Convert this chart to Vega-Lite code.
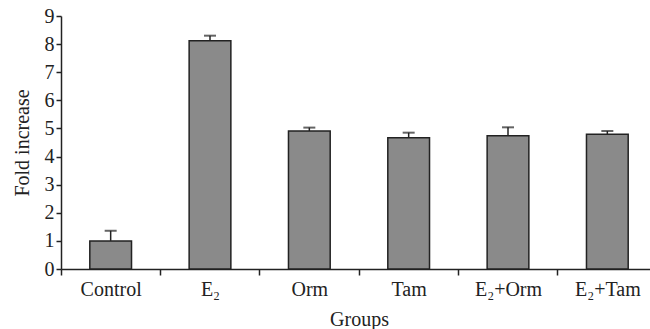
{
  "$schema": "https://vega.github.io/schema/vega-lite/v6.json",
  "autosize": "none",
  "padding": {"left": 61, "top": 16, "right": 0, "bottom": 60},
  "width": 589,
  "height": 253,
  "background": "white",
  "config": {
    "view": {"stroke": null},
    "axis": {
      "labelFont": "Liberation Serif",
      "titleFont": "Liberation Serif",
      "labelColor": "#222",
      "titleColor": "#222",
      "domainColor": "#222",
      "tickColor": "#222",
      "domainWidth": 1.5,
      "tickWidth": 1.5,
      "grid": false,
      "titleFontWeight": "normal"
    },
    "axisY": {
      "title": "Fold increase",
      "values": [0, 1, 2, 3, 4, 5, 6, 7, 8, 9],
      "labelFontSize": 20,
      "titleFontSize": 20,
      "tickSize": 5,
      "labelPadding": 2,
      "titlePadding": 12
    }
  },
  "data": {
    "values": [
      {"group": "Control", "value": 1.0, "upper": 1.36},
      {"group": "E₂", "value": 8.12, "upper": 8.3},
      {"group": "Orm", "value": 4.91, "upper": 5.03},
      {"group": "Tam", "value": 4.67, "upper": 4.85},
      {"group": "E₂+Orm", "value": 4.74, "upper": 5.04},
      {"group": "E₂+Tam", "value": 4.79, "upper": 4.91}
    ]
  },
  "encoding": {
    "x": {
      "field": "group",
      "type": "nominal",
      "sort": null,
      "scale": {"range": [0, 596], "paddingInner": 0.58, "paddingOuter": 0.29},
      "axis": {
        "title": "Groups",
        "labelAngle": 0,
        "labelFontSize": 20,
        "titleFontSize": 20,
        "ticks": true,
        "bandPosition": 0,
        "tickOffset": -29,
        "labelOffset": 29,
        "tickSize": 6,
        "labelPadding": 4,
        "titlePadding": 10
      }
    }
  },
  "layer": [
    {
      "mark": {"type": "rule", "color": "#222", "strokeWidth": 1.5},
      "encoding": {
        "y": {"field": "value", "type": "quantitative", "title": "Fold increase", "scale": {"domain": [0, 9], "nice": false}},
        "y2": {"field": "upper"}
      }
    },
    {
      "mark": {"type": "tick", "color": "#222", "thickness": 2, "size": 12, "orient": "horizontal"},
      "encoding": {
        "y": {"field": "upper", "type": "quantitative", "title": "Fold increase"}
      }
    },
    {
      "mark": {"type": "bar", "fill": "#8a8a8a", "stroke": "#222", "strokeWidth": 1.5},
      "encoding": {
        "y": {"field": "value", "type": "quantitative", "title": "Fold increase"}
      }
    }
  ]
}
